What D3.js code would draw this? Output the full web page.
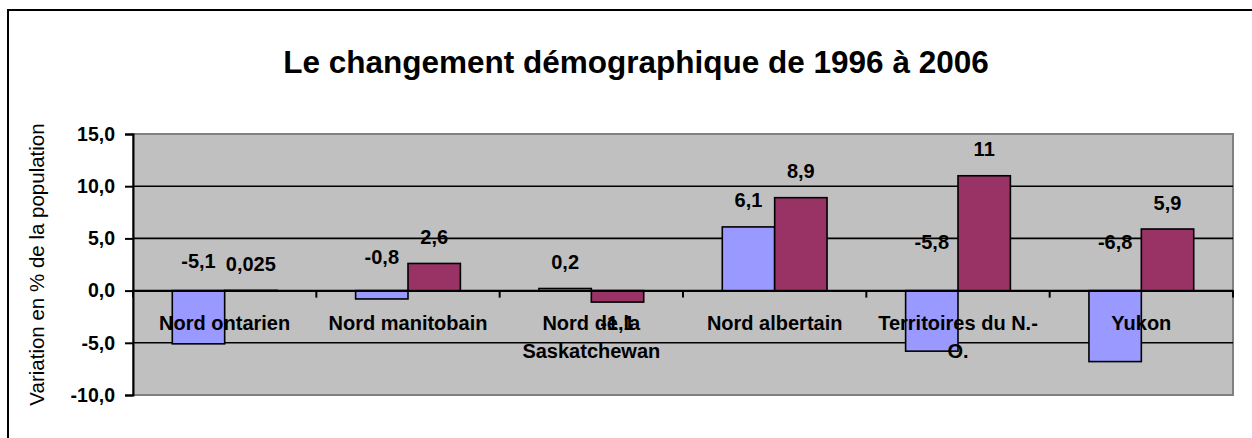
<!DOCTYPE html>
<html><head><meta charset="utf-8">
<script src="https://cdn.jsdelivr.net/npm/d3@7"></script>
<style>html,body{margin:0;padding:0;background:#fff;overflow:hidden}</style>
</head><body>
<svg id="c" width="1252" height="438"></svg>
<script>
const categories = ["Nord ontarien","Nord manitobain","Nord de la Saskatchewan","Nord albertain","Territoires du N.-O.","Yukon"];
const tickLabels = [["Nord ontarien"],["Nord manitobain"],["Nord de la","Saskatchewan"],["Nord albertain"],["Territoires du N.-","O."],["Yukon"]];
const series1 = [-5.1, -0.8, 0.2, 6.1, -5.8, -6.8];
const series2 = [0.025, 2.6, -1.1, 8.9, 11, 5.9];
const labels1 = ["-5,1","-0,8","0,2","6,1","-5,8","-6,8"];
const labels2 = ["0,025","2,6","-1,1","8,9","11","5,9"];
const yTicks = [-10, -5, 0, 5, 10, 15];
const title = "Le changement démographique de 1996 à 2006";
const yTitle = "Variation en % de la population";

const colors = ["#9999FF", "#993366"];
const svg = d3.select("#c");
const font = "Arial, 'Liberation Sans', sans-serif";

// outer chart border
svg.append("rect").attr("x", 8).attr("y", 10).attr("width", 1300).attr("height", 500)
  .attr("fill", "#fff").attr("stroke", "#000").attr("stroke-width", 2);

const L = 133, R = 1233, T = 134, B = 395;
const x = d3.scaleBand().domain(categories).range([L, R]).paddingInner(0).paddingOuter(0);
const y = d3.scaleLinear().domain([-10, 15]).range([B, T]);
const bw = x.bandwidth() / 3.5;
const gap = (x.bandwidth() - 2 * bw) / 2;

// plot area
svg.append("rect").attr("x", L).attr("y", T).attr("width", R - L).attr("height", B - T)
  .attr("fill", "#C0C0C0").attr("stroke", "#808080").attr("stroke-width", 2);

// gridlines
svg.append("g").selectAll("line").data(yTicks.filter(d => d !== -10 && d !== 15)).join("line")
  .attr("x1", L).attr("x2", R).attr("y1", d => y(d)).attr("y2", d => y(d))
  .attr("stroke", "#000").attr("stroke-width", 1.6);

// bars
const seriesAll = [series1, series2];
seriesAll.forEach((s, si) => {
  svg.append("g").selectAll("rect").data(s).join("rect")
    .attr("x", (d, i) => x(categories[i]) + gap + si * bw)
    .attr("y", d => Math.min(y(d), y(0)))
    .attr("width", bw)
    .attr("height", d => Math.abs(y(d) - y(0)))
    .attr("fill", colors[si]).attr("stroke", "#000").attr("stroke-width", 1.6);
});

// y axis
const yAxis = d3.axisLeft(y).tickValues(yTicks).tickSize(8).tickPadding(10)
  .tickFormat(d => d3.format(".1f")(d).replace(".", ",").replace("−", "-"));
const ga = svg.append("g").attr("transform", `translate(${L},0)`).call(yAxis);
ga.select(".domain").attr("stroke", "#000").attr("stroke-width", 2);
ga.selectAll(".tick line").attr("stroke", "#000").attr("stroke-width", 2);
ga.selectAll("text").attr("font-family", font).attr("font-weight", "bold")
  .attr("font-size", 19.5).attr("fill", "#000");

// x axis at zero
const xAxis = d3.axisBottom(x).tickValues([]).tickSize(0);
const gx = svg.append("g").attr("transform", `translate(0,${y(0)})`).call(xAxis);
gx.select(".domain").attr("stroke", "#000").attr("stroke-width", 2);
const bounds = categories.map(c => x(c)).concat([R]);
gx.selectAll("line.b").data(bounds).join("line").attr("class", "b")
  .attr("x1", d => d).attr("x2", d => d).attr("y1", 0).attr("y2", 7)
  .attr("stroke", "#000").attr("stroke-width", 2);

// category labels
const cl = svg.append("g");
tickLabels.forEach((lines, i) => {
  const t = cl.append("text").attr("text-anchor", "middle")
    .attr("font-family", font).attr("font-weight", "bold").attr("font-size", 20)
    .attr("x", x(categories[i]) + x.bandwidth() / 2).attr("y", y(0) + 32).attr("dy", "0.35em");
  lines.forEach((ln, j) => t.append("tspan").attr("x", x(categories[i]) + x.bandwidth() / 2)
    .attr("dy", j ? 28 : "0.35em").text(ln));
});

// data labels
const negLift = [30, 34, 0, 0, 49, 49];
const lab = svg.append("g").attr("font-family", font).attr("font-weight", "bold")
  .attr("font-size", 20).attr("text-anchor", "middle").attr("fill", "#000");
seriesAll.forEach((s, si) => {
  const L2 = si ? labels2 : labels1;
  s.forEach((d, i) => {
    const cx = x(categories[i]) + gap + si * bw + bw / 2;
    let cy;
    if (d >= 0) cy = y(d) - 26.5;
    else if (si === 0) cy = y(0) - negLift[i];
    else cy = y(d) + 21;
    lab.append("text").attr("x", cx).attr("y", cy).attr("dy", "0.35em").text(L2[i]);
  });
});

// title
svg.append("text").attr("x", 636).attr("y", 62).attr("dy", "0.35em").attr("text-anchor", "middle")
  .attr("font-family", font).attr("font-weight", "bold").attr("font-size", 31.5).text(title);

// y axis title
svg.append("text").attr("transform", `translate(37,${(T + B) / 2}) rotate(-90)`)
  .attr("dy", "0.35em").attr("text-anchor", "middle")
  .attr("font-family", font).attr("font-size", 20.5).text(yTitle);
</script>
</body></html>
